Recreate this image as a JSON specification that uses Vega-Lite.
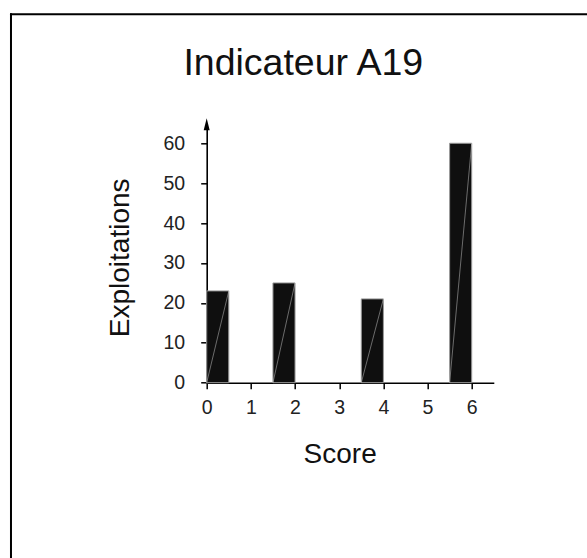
{
  "$schema": "https://vega.github.io/schema/vega-lite/v6.json",
  "width": 287.1,
  "height": 255.4,
  "autosize": {"type": "none"},
  "padding": {"left": 206.7, "top": 127.3, "right": 93.2, "bottom": 175.3},
  "background": "white",
  "config": {"view": {"stroke": null}, "font": "Liberation Sans"},
  "title": {
    "text": "Indicateur A19",
    "fontSize": 37.5,
    "font": "Liberation Sans",
    "fontWeight": "normal",
    "color": "#111111",
    "anchor": "middle",
    "frame": "group",
    "baseline": "alphabetic",
    "offset": -100,
    "dx": -47
  },
  "datasets": {
    "bars": [
      {"start": 0, "end": 0.5, "count": 23},
      {"start": 1.5, "end": 2, "count": 25},
      {"start": 3.5, "end": 4, "count": 21},
      {"start": 5.5, "end": 6, "count": 60}
    ],
    "frame": [
      {"fx": -4.454, "fx2": 8.62, "fy": 92.33, "fy2": 92.33},
      {"fx": -4.431, "fx2": -4.431, "fy": 92.58, "fy2": -43.94}
    ]
  },
  "layer": [
    {
      "data": {"name": "bars"},
      "mark": {"type": "rect", "fill": "#0f0f0f", "stroke": "#9a9a9a", "strokeWidth": 1},
      "encoding": {
        "x": {
          "field": "start", "type": "quantitative",
          "scale": {"domain": [0, 6.5], "nice": false, "zero": false},
          "axis": {
            "title": "Score", "values": [0, 1, 2, 3, 4, 5, 6], "grid": false,
            "domainColor": "#000000", "domainWidth": 1.6,
            "tickColor": "#000000", "tickWidth": 1.5, "tickSize": 6,
            "labelFont": "Liberation Sans", "labelFontSize": 19.5, "labelColor": "#222222",
            "labelPadding": 10, "labelFlush": false, "labelOverlap": false,
            "titleFont": "Liberation Sans", "titleFontSize": 28, "titleFontWeight": "normal", "titleColor": "#111111",
            "titleX": 133, "titleY": 80, "titleAlign": "center", "titleBaseline": "alphabetic"
          }
        },
        "x2": {"field": "end"},
        "y": {
          "field": "count", "type": "quantitative",
          "scale": {"domain": [0, 64], "nice": false, "zero": false},
          "axis": {
            "title": "Exploitations", "values": [0, 10, 20, 30, 40, 50, 60], "grid": false,
            "domainColor": "#000000", "domainWidth": 1.6,
            "tickColor": "#000000", "tickWidth": 1.5, "tickSize": 6,
            "labelFont": "Liberation Sans", "labelFontSize": 19.5, "labelColor": "#222222",
            "labelPadding": 16, "labelFlush": false, "labelOverlap": false,
            "titleFont": "Liberation Sans", "titleFontSize": 28, "titleFontWeight": "normal", "titleColor": "#111111",
            "titleAngle": -90, "titleX": -86, "titleY": 130, "titleAlign": "center", "titleBaseline": "middle"
          }
        },
        "y2": {"datum": 0}
      }
    },
    {
      "data": {"name": "bars"},
      "mark": {"type": "rule", "stroke": "#c8c8c8", "strokeWidth": 0.5},
      "encoding": {
        "x": {"field": "end", "type": "quantitative"},
        "x2": {"field": "start"},
        "y": {"field": "count", "type": "quantitative"},
        "y2": {"datum": 0}
      }
    },
    {
      "data": {"name": "frame"},
      "mark": {"type": "rule", "stroke": "#000000", "strokeWidth": 2},
      "encoding": {
        "x": {"field": "fx", "type": "quantitative"},
        "x2": {"field": "fx2"},
        "y": {"field": "fy", "type": "quantitative"},
        "y2": {"field": "fy2"}
      }
    },
    {
      "data": {"values": [{"ax": 0, "ay": 64.76}]},
      "mark": {"type": "point", "shape": "M0,-1L0.5,1L-0.5,1Z", "size": 144, "filled": true, "fill": "#000000", "opacity": 1},
      "encoding": {
        "x": {"field": "ax", "type": "quantitative"},
        "y": {"field": "ay", "type": "quantitative"}
      }
    }
  ]
}
